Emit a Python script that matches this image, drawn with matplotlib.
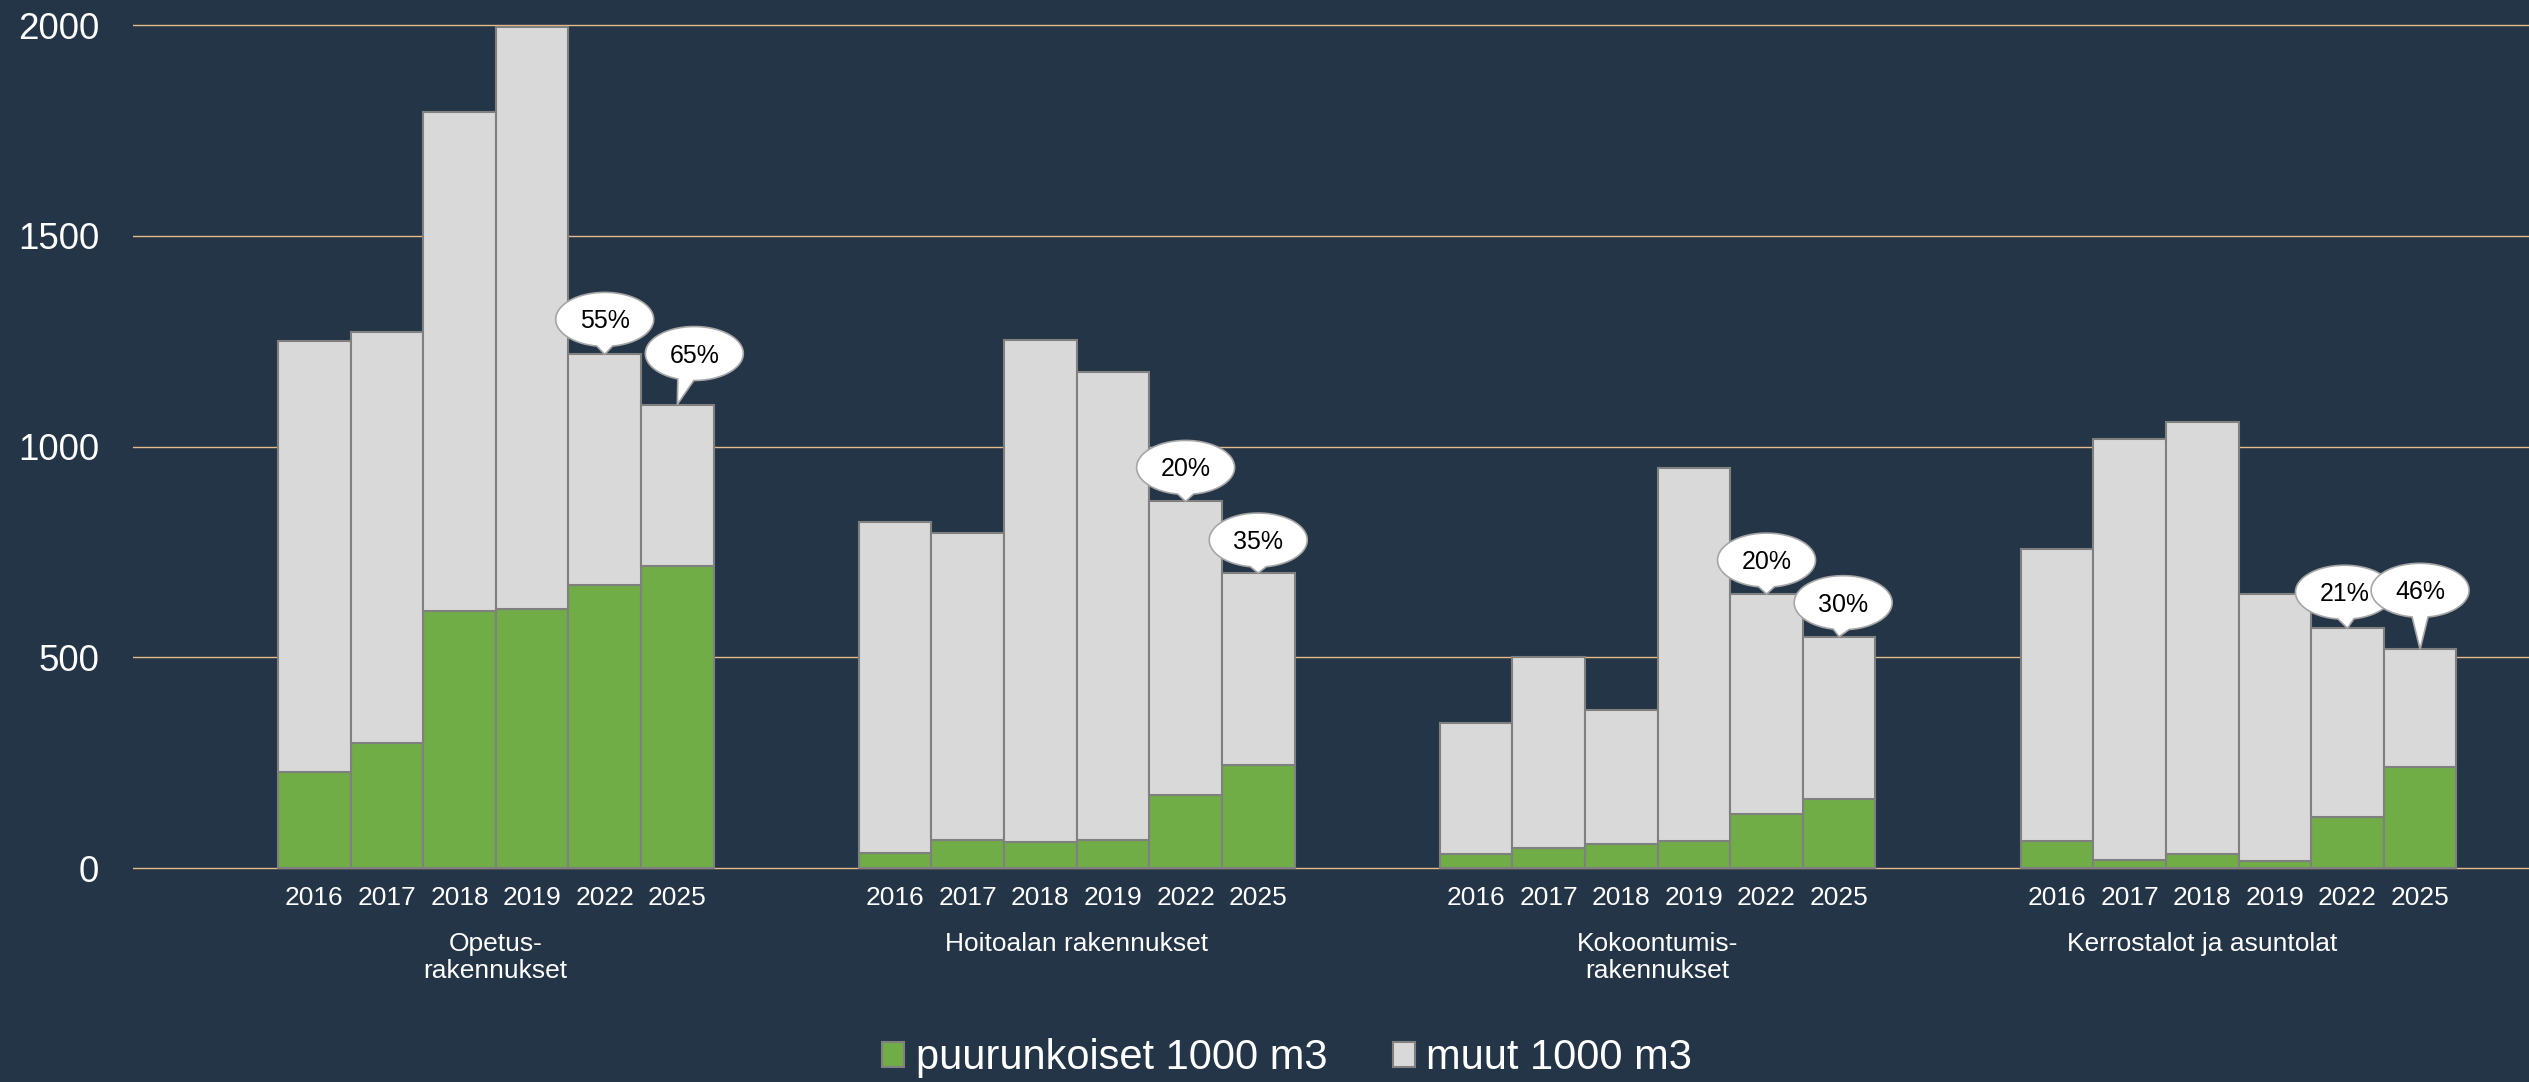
import numpy as np
import matplotlib.pyplot as plt
from matplotlib.patches import Polygon, Patch
from matplotlib.transforms import IdentityTransform

categories = ["Opetus-\nrakennukset", "Hoitoalan rakennukset",
              "Kokoontumis-\nrakennukset", "Kerrostalot ja asuntolat"]
years = ["2016", "2017", "2018", "2019", "2022", "2025"]

# puurunkoiset 1000 m3
puu = [
    [229, 296, 611, 615, 671, 716],
    [35, 66, 62, 66, 173, 244],
    [34, 47, 57, 65, 129, 164],
    [64, 19, 33, 17, 121, 239],
]
# muut 1000 m3
muut = [
    [1021, 977, 1184, 1382, 548, 384],
    [786, 730, 1190, 1112, 697, 456],
    [310, 454, 317, 885, 521, 385],
    [694, 1000, 1026, 633, 448, 280],
]
# puun osuus (callouts)
osuus = [
    [None, None, None, None, "55%", "65%"],
    [None, None, None, None, "20%", "35%"],
    [None, None, None, None, "20%", "30%"],
    [None, None, None, None, "21%", "46%"],
]
# callout offsets in pixels (style only)
bubble_off = [
    [None, None, None, None, (0, 35), (17, 51)],
    [None, None, None, None, (0, 34), (0, 33)],
    [None, None, None, None, (0, 34), (4, 34)],
    [None, None, None, None, (-3, 36), (0, 59)],
]

BG = '#243547'
GREEN = '#70AD47'
GREY = '#D9D9D9'
EDGE = '#808080'
GRID = '#E6BA8A'

plt.rcParams['font.family'] = ['Liberation Sans', 'DejaVu Sans']

W, H = 2529, 1082
fig = plt.figure(figsize=(W / 100, H / 100), dpi=100, facecolor=BG)
# y: 0 -> 868 px, 2000 -> 25.3 px
ppu = (868 - 25.3) / 2000
y0, y1 = -5, 2010
ax_bot = 868 + 5 * ppu
ax_top = 868 - 2010 * ppu
ax = fig.add_axes([132.7 / W, 1 - ax_bot / H, 1 - 132.7 / W, (ax_bot - ax_top) / H])
ax.set_facecolor(BG)

step = len(years) + 2
xs_all, xl_all = [], []
for g in range(len(categories)):
    x = g * step + np.arange(len(years))
    ax.bar(x, puu[g], width=1, color=GREEN, edgecolor=EDGE, lw=1.5, zorder=3)
    ax.bar(x, muut[g], bottom=puu[g], width=1, color=GREY, edgecolor=EDGE, lw=1.5, zorder=3)
    xs_all += list(x)
    xl_all += years

ax.set_xlim(-2.5, 30.5)
ax.set_ylim(y0, y1)
ax.set_yticks([0, 500, 1000, 1500, 2000])
ax.set_xticks(xs_all, xl_all)
ax.yaxis.grid(True, color=GRID, lw=1.0)
ax.set_axisbelow(True)
for s in ax.spines.values():
    s.set_visible(False)
ax.tick_params(axis='x', length=0, pad=11.5, labelsize=19, labelcolor='white')
ax.tick_params(axis='y', length=0, pad=24, labelsize=26.5, labelcolor='white')

# category labels
for g, cat in enumerate(categories):
    cx = g * step + 2.5 - (0.5 if g == len(categories) - 1 else 0)
    ax.annotate(cat, xy=(cx, 0), xycoords=('data', 'axes fraction'),
                xytext=(0, -62), textcoords='offset pixels',
                ha='center', va='top', fontsize=19, color='white', linespacing=1.13)

# callouts
a, b = 49, 27
z = 6
for g in range(len(categories)):
    for i in range(len(years)):
        lab = osuus[g][i]
        if lab is None:
            continue
        tot = puu[g][i] + muut[g][i]
        tx, ty = ax.transData.transform((g * step + i, tot))
        dx, dy = bubble_off[g][i]
        cx, cy = tx + dx, ty + dy
        ub = np.clip((tx - cx) * 0.5, -a * 0.6, a * 0.6)
        t1 = -np.arccos((ub - 8) / a)
        t2 = -np.arccos((ub + 8) / a)
        th = np.linspace(t2, t1 + 2 * np.pi, 120)
        pts = np.column_stack([cx + a * np.cos(th), cy + b * np.sin(th)])
        pts = np.vstack([pts, [tx, ty]])
        ax.add_patch(Polygon(pts, closed=True, transform=IdentityTransform(),
                             facecolor='white', edgecolor='#A6A6A6', lw=1.2,
                             zorder=z, clip_on=False))
        ax.text(cx, cy - 9, lab, transform=IdentityTransform(), ha='center',
                va='baseline', fontsize=18, color='black', zorder=z + 1)
        z += 2

handles = [Patch(facecolor=GREEN, edgecolor=EDGE, lw=1.5),
           Patch(facecolor=GREY, edgecolor=EDGE, lw=1.5)]
fig.legend(handles, ['puurunkoiset 1000 m3', 'muut 1000 m3'], loc='center',
           bbox_to_anchor=(0.509, 0.022), ncol=2, frameon=False, fontsize=30,
           labelcolor='white', handlelength=0.53, handleheight=0.53,
           handletextpad=0.28, columnspacing=1.56)

fig.savefig('out.png', dpi=100, facecolor=BG)
